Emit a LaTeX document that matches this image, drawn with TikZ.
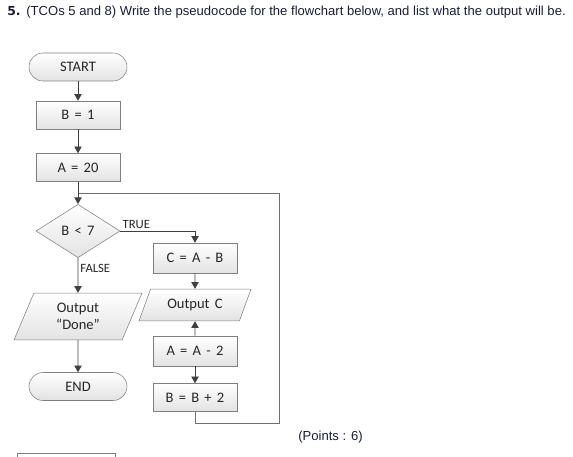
\documentclass[tikz,border=0pt]{standalone}
\usepackage{fontspec}
\setmainfont{Carlito}[WordSpace=1.6]
\newfontfamily\arialfont{Liberation Sans}
\newfontfamily\numfont{DejaVu Sans}
\usetikzlibrary{shapes.geometric,arrows.meta}
\definecolor{edgegray}{RGB}{127,127,127}
\definecolor{linegray}{RGB}{64,64,64}
\definecolor{loopgray}{RGB}{112,112,112}
\definecolor{boxtext}{RGB}{38,38,38}
\definecolor{qtext}{RGB}{28,28,56}

\begin{document}
\begin{tikzpicture}[x=0.75pt,y=-0.75pt,font=\fontsize{10.9}{13}\selectfont,text=boxtext]
\tikzset{box/.style={draw=edgegray,top color=white,bottom color=black!11,minimum width=63pt,minimum height=21pt,inner sep=1pt},
  term/.style={box,rounded corners=10.5pt,minimum width=73.5pt},
  decide/.style={box,diamond,minimum width=63pt,minimum height=40pt,inner sep=0pt},
  io/.style={box,trapezium,trapezium left angle=67,trapezium right angle=113,trapezium stretches body,minimum height=0pt,inner xsep=1pt,align=center},
  flow/.style={draw=linegray,line width=0.6pt,-{Triangle[length=5pt,width=5.5pt]}},
  loopline/.style={draw=loopgray,line width=0.6pt},
  lbl/.style={font=\fontsize{9.5}{11}\selectfont,inner sep=1.5pt}}
\useasboundingbox (0,0) rectangle (573,456);
% question text
\node[anchor=base west,inner sep=0pt,text=qtext,font=\fontsize{9.8}{12}\selectfont] (title) at (7,16)
   {{\numfont\bfseries\fontsize{9.3}{12}\selectfont 5.} {\arialfont (TCOs 5 and 8) Write the pseudocode for the flowchart below, and list what the output will be.}};
% left column
\node[term] (start) at (78,67) {START};
\node[box] (b1) at (78,115) {B = 1};
\node[box] (a20) at (78,167.5) {A = 20};
\node[decide] (cond) at (78,231) {B < 7};
\node[io,minimum width=96pt,inner ysep=7.5pt] (outdone) at (78,316.5) {Output\\“Done”};
\node[term] (endn) at (78,386.5) {END};
% right column
\node[box,minimum height=22.5pt] (c1) at (195,258) {C = A - B};
\node[io,trapezium left angle=70,trapezium right angle=110,minimum width=84pt,inner ysep=7.5pt] (outc) at (195,305) {Output C};
\node[box,minimum height=22.5pt] (a2) at (195,351) {A = A - 2};
\node[box] (b2) at (195,397.5) {B = B + 2};
% loop back
\coordinate (loopbr) at (279,423);
\coordinate (join) at (78,193);
\draw[loopline] (b2.south) |- (loopbr) |- (join);
% connectors
\draw[flow] (start) -- (b1);
\draw[flow] (b1) -- (a20);
\draw[flow] (a20) -- (cond);
\draw[flow] (cond.east) -| node[lbl,pos=0,above right]{TRUE} (c1.north);
\draw[flow] (cond.south) -- node[lbl,pos=0.3,right]{FALSE} (outdone.north);
\draw[flow] (outdone) -- (endn);
\draw[flow] (c1) -- (outc);
\draw[flow] (a2) -- (outc);
\draw[flow] (a2) -- (b2);
\node[anchor=base west,inner sep=0pt,text=qtext,font=\arialfont\fontsize{9.8}{12}\selectfont] (points) at (298,440) {(Points : 6)};
\node[draw=edgegray,anchor=north west,minimum width=73.5pt,minimum height=9pt,inner sep=0pt] (field) at (17,453) {};
\end{tikzpicture}
\end{document}
